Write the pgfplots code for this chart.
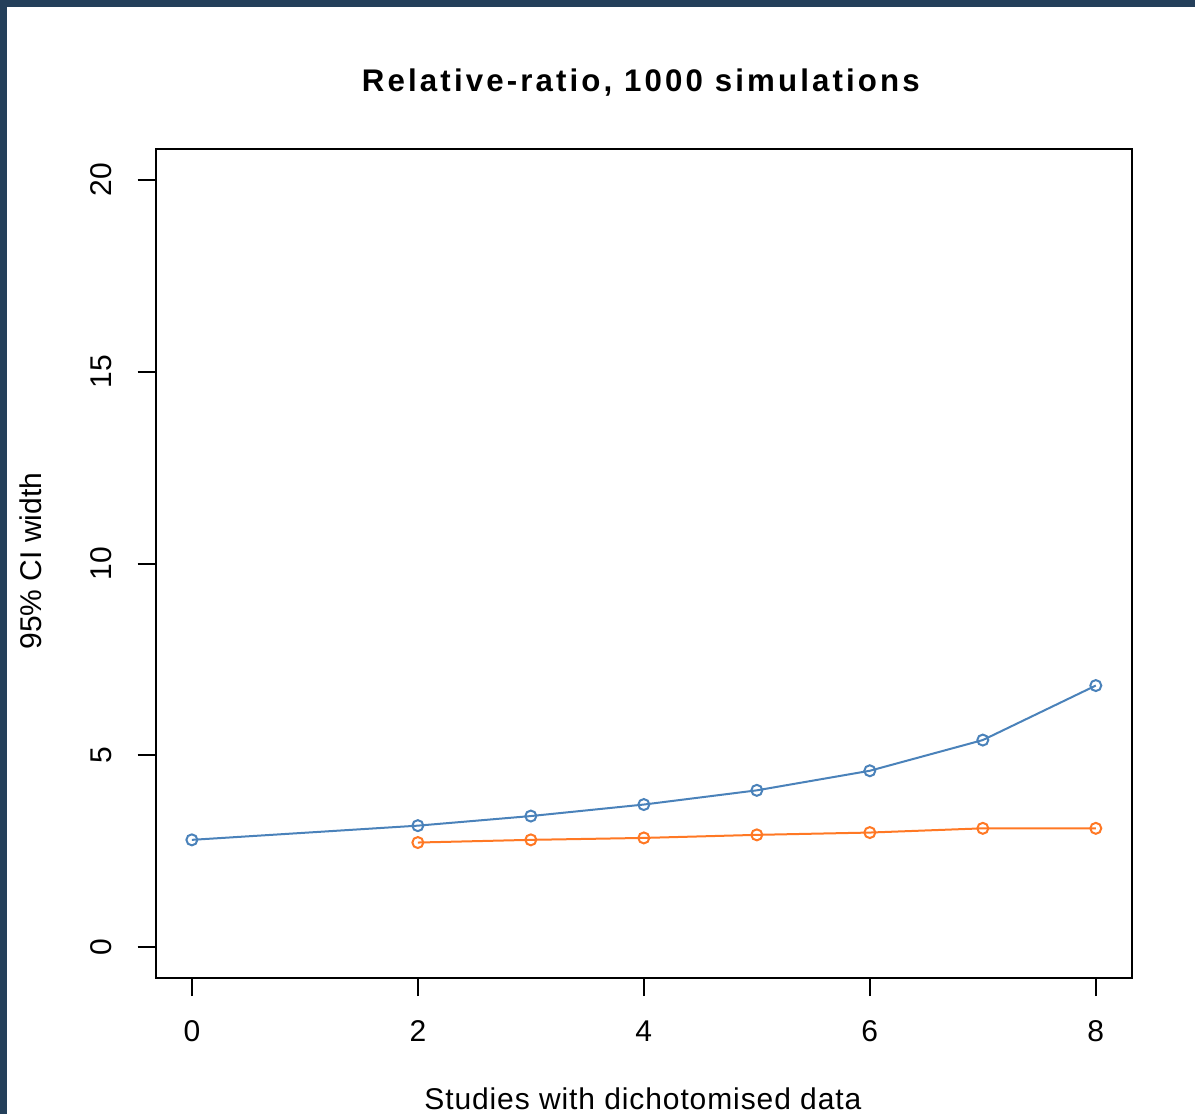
\documentclass[border=0pt]{standalone}
\usepackage{pgfplots}
\pgfplotsset{compat=1.18}
\usepackage{fontspec}
\setmainfont{Liberation Sans}
\setsansfont{Liberation Sans}
\definecolor{frameblue}{RGB}{36,63,90}
\definecolor{sblue}{RGB}{74,130,186}
\definecolor{sorange}{RGB}{255,120,36}
\begin{document}
\begin{tikzpicture}
\fill[frameblue] (0,0) rectangle (478pt,445.6pt);
\fill[white] (2.8pt,0) rectangle (478pt,442.9pt);
\begin{axis}[
  at={(62.28pt,54.4pt)}, anchor=south west,
  scale only axis, width=390.5pt, height=331.6pt,
  xmin=-0.32, xmax=8.32, ymin=-0.8, ymax=20.8,
  xtick={0,2,4,6,8}, ytick={0,5,10,15,20},
  tick pos=left, tick align=outside, major tick length=7.2pt,
  axis line style={line width=0.8pt},
  every tick/.style={black, line width=0.8pt},
  /pgf/number format/assume math mode=true,
  font=\fontsize{12}{14}\selectfont,
  xticklabel style={anchor=north, inner sep=0pt},
  xticklabel shift=9.6pt,
  yticklabel style={rotate=90, anchor=south, inner sep=0pt},
  yticklabel shift=10.3pt,
  title={\addfontfeature{LetterSpace=10}\bfseries Relative-ratio, 1000 simulations},
  title style={at={(0.497,1.051)}, anchor=base, inner sep=0pt, font=\fontsize{12.5}{14}\selectfont},
  xlabel={\addfontfeature{LetterSpace=3}Studies with dichotomised data},
  xlabel style={at={(0.499,-0.158)}, anchor=base, inner sep=0pt},
  ylabel={95\% CI width},
  ylabel style={at={(-0.1165,0.503)}, anchor=base, inner sep=0pt},
  clip=false,
]
\addplot[color=sblue, line width=0.8pt, mark=o, mark size=2.2pt, mark options={line width=0.8pt}]
  coordinates {(0,2.80) (2,3.17) (3,3.42) (4,3.72) (5,4.09) (6,4.60) (7,5.40) (8,6.82)};
\addplot[color=sorange, line width=0.8pt, mark=o, mark size=2.2pt, mark options={line width=0.8pt}]
  coordinates {(2,2.73) (3,2.80) (4,2.85) (5,2.93) (6,2.99) (7,3.10) (8,3.10)};
\end{axis}
\pgfresetboundingbox
\path[use as bounding box] (0,0) rectangle (478pt,445.6pt);
\end{tikzpicture}
\end{document}
